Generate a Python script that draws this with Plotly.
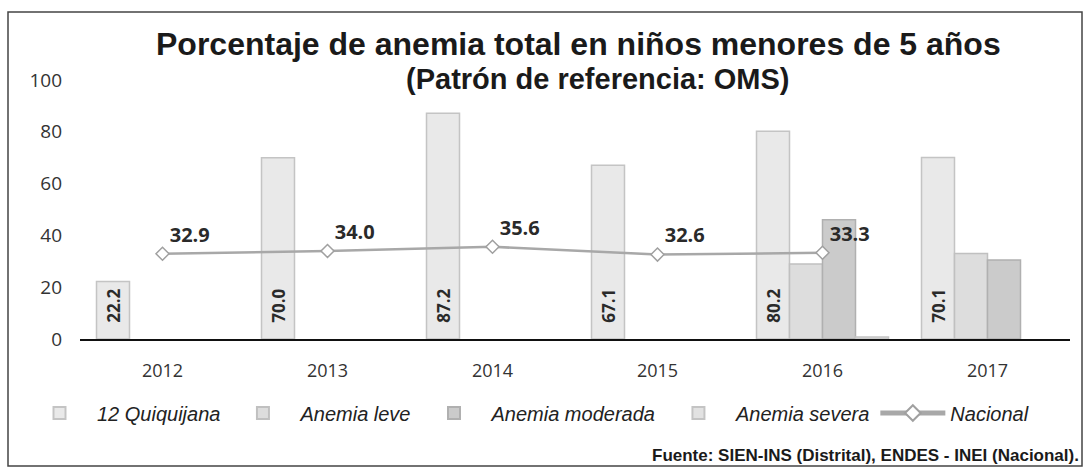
import plotly.graph_objects as go

years = ["2012", "2013", "2014", "2015", "2016", "2017"]
quiquijana = [22.2, 70.0, 87.2, 67.1, 80.2, 70.1]
leve = [None, None, None, None, 29.0, 33.0]
moderada = [None, None, None, None, 46.0, 30.5]
severa = [None, None, None, None, 0.8, None]
nacional = [32.9, 34.0, 35.6, 32.6, 33.3, None]
y_ticks = [0, 20, 40, 60, 80, 100]

W, H = 1087, 472
ML, MR, MT, MB = 80, 17, 80, 133
PW, PH = W - ML - MR, H - MT - MB

def px(x):
    return (x - ML) / PW

def py(y):
    return (H - MB - y) / PH

NB = "\u00a0\u00a0\u00a0"

fig = go.Figure()
fig.add_trace(go.Bar(
    x=years, y=quiquijana, name="12 Quiquijana",
    marker=dict(color="#e9e9e9", line=dict(color="#c4c4c4", width=1.5)),
    text=[NB + f"{v:.1f}" for v in quiquijana], textposition="inside",
    textangle=-90, insidetextanchor="start", constraintext="none",
    textfont=dict(family="Open Sans", size=17, color="#2a2a2a", weight="bold"),
))
fig.add_trace(go.Bar(
    x=years, y=leve, name="Anemia leve",
    marker=dict(color="#dddddd", line=dict(color="#c0c0c0", width=1.5)),
))
fig.add_trace(go.Bar(
    x=years, y=moderada, name="Anemia moderada",
    marker=dict(color="#cbcbcb", line=dict(color="#b0b0b0", width=1.5)),
))
fig.add_trace(go.Bar(
    x=years, y=severa, name="Anemia severa",
    marker=dict(color="#e2e2e2", line=dict(color="#c4c4c4", width=1.5)),
))
fig.add_trace(go.Scatter(
    x=years, y=nacional, name="Nacional", mode="lines+markers+text",
    line=dict(color="#a8a8a8", width=2.5),
    marker=dict(symbol="diamond", size=10, color="white", line=dict(color="#a0a0a0", width=1.5)),
    text=[f"{v:.1f}" if v is not None else "" for v in nacional],
    textposition="top right",
    textfont=dict(family="Open Sans", size=20, color="#2a2a2a", weight="bold"),
))

fig.update_layout(
    width=W, height=H,
    margin=dict(l=ML, r=MR, t=MT, b=MB, autoexpand=False),
    paper_bgcolor="white", plot_bgcolor="white",
    barmode="group", bargap=0.2, bargroupgap=0,
    showlegend=True,
    legend=dict(orientation="h", x=px(22), xanchor="left", y=py(413), yanchor="middle",
                font=dict(family="Liberation Sans", size=20, color="#222", style="italic"),
                tracegroupgap=0, itemsizing="constant", itemwidth=65),
    xaxis=dict(type="category", range=[-0.5, 5.5], showline=True, linecolor="#111",
               linewidth=2, ticks="", showgrid=False, automargin=False,
               ticklabelstandoff=14,
               tickfont=dict(family="Open Sans", size=18, color="#333")),
    yaxis=dict(range=[0, 100], tickvals=y_ticks, showgrid=False, showline=False,
               zeroline=False, ticks="", ticklabelstandoff=17, automargin=False,
               tickfont=dict(family="Open Sans", size=19, color="#333")),
    font=dict(family="Open Sans"),
)

fig.add_annotation(text="<b>Porcentaje de anemia total en niños menores de 5 años</b>",
                   xref="paper", yref="paper", x=px(578), y=py(44), showarrow=False,
                   xanchor="center", yanchor="middle",
                   font=dict(family="Liberation Sans", size=32, color="#1a1a1a"))
fig.add_annotation(text="<b>(Patrón de referencia: OMS)</b>",
                   xref="paper", yref="paper", x=px(598), y=py(79), showarrow=False,
                   xanchor="center", yanchor="middle",
                   font=dict(family="Liberation Sans", size=29, color="#1a1a1a"))
fig.add_annotation(text="<b>Fuente: SIEN-INS (Distrital), ENDES - INEI (Nacional).</b>",
                   xref="paper", yref="paper", x=px(1081), y=py(455), showarrow=False,
                   xanchor="right", yanchor="middle",
                   font=dict(family="Liberation Sans", size=17, color="#1a1a1a"))

fig.add_shape(type="rect", xref="paper", yref="paper",
              x0=px(8), x1=px(1082), y0=py(466), y1=py(12),
              line=dict(color="#444", width=1.5), layer="below")

fig.write_html("out.html", config={"displayModeBar": False},
               post_script="document.body.style.margin='0';document.body.style.overflow='hidden';")
